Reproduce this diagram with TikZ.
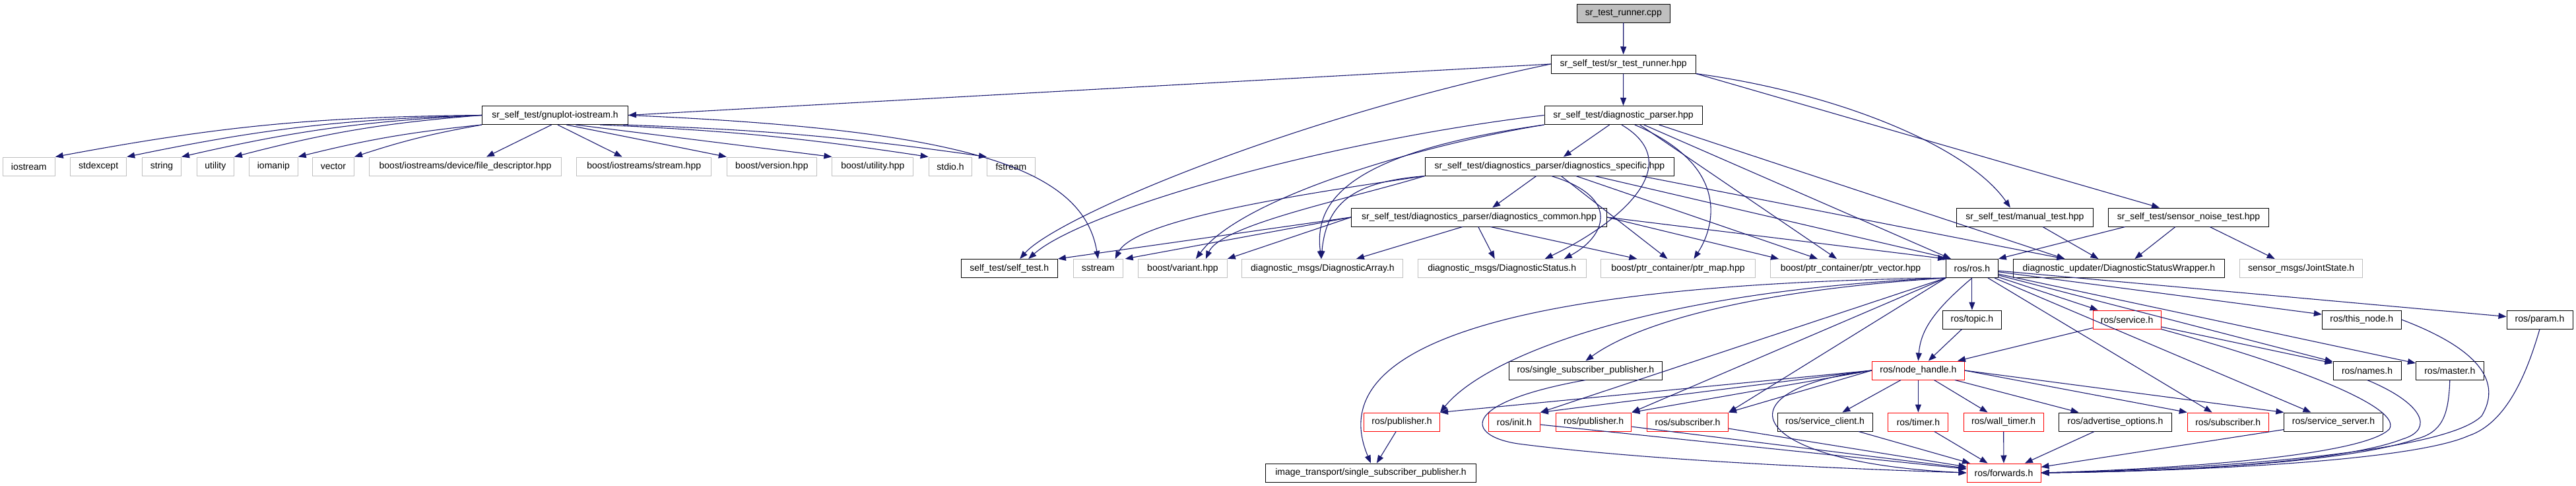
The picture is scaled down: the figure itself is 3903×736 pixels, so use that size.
\documentclass[tikz,border=0pt]{standalone}
\usepackage{fontspec}
\setmainfont{Liberation Sans}
\usetikzlibrary{arrows.meta,calc}
\definecolor{edgeblue}{HTML}{191970}
\definecolor{boxgray}{HTML}{BFBFBF}
\definecolor{boxred}{HTML}{FF0000}
\tikzset{
  box/.style={draw=black, fill=white, line width=1pt, minimum height=28pt, inner sep=0pt, font=\fontsize{14}{16}\selectfont},
  sysbox/.style={box, draw=boxgray},
  redbox/.style={box, draw=boxred},
  rootbox/.style={box, fill=boxgray},
  e/.style={draw=edgeblue, line width=1.1pt, -{Triangle[length=12pt,width=9pt]}}
}
\begin{document}
\begin{tikzpicture}[x=1pt,y=-1pt]
\useasboundingbox (0,0) rectangle (3903,736);
% row 1-3
\node[rootbox, minimum width=141] (cpp) at (2459.8,20) {sr\_test\_runner.cpp};
\node[box, minimum width=219] (runner) at (2459.6,97) {sr\_self\_test/sr\_test\_runner.hpp};
\node[box, minimum width=221] (gnuplot) at (841,174.5) {sr\_self\_test/gnuplot-iostream.h};
\node[box, minimum width=239] (dparser) at (2459.5,174.5) {sr\_self\_test/diagnostic\_parser.hpp};
% row 4
\node[sysbox, minimum width=79] (iostream) at (43.8,252) {iostream};
\node[sysbox, minimum width=85] (stdexcept) at (149.2,252) {stdexcept};
\node[sysbox, minimum width=59] (string) at (245,252) {string};
\node[sysbox, minimum width=56] (utility) at (326.4,252) {utility};
\node[sysbox, minimum width=73.6] (iomanip) at (414.4,252) {iomanip};
\node[sysbox, minimum width=63] (vector) at (505,252) {vector};
\node[sysbox, minimum width=291] (filedesc) at (705,252) {boost/iostreams/device/file\_descriptor.hpp};
\node[sysbox, minimum width=204] (stream) at (975.7,252) {boost/iostreams/stream.hpp};
\node[sysbox, minimum width=136] (version) at (1169.3,252) {boost/version.hpp};
\node[sysbox, minimum width=123] (butility) at (1322.4,252) {boost/utility.hpp};
\node[sysbox, minimum width=65.7] (stdio) at (1440,252) {stdio.h};
\node[sysbox, minimum width=72.8] (fstream) at (1531.9,252) {fstream};
\node[box, minimum width=377.6] (dspec) at (2347.9,252) {sr\_self\_test/diagnostics\_parser/diagnostics\_specific.hpp};
% row 5
\node[box, minimum width=387] (dcommon) at (2241,329) {sr\_self\_test/diagnostics\_parser/diagnostics\_common.hpp};
\node[box, minimum width=206.7] (manual) at (3067.9,329) {sr\_self\_test/manual\_test.hpp};
\node[box, minimum width=243.3] (sensor) at (3316,329) {sr\_self\_test/sensor\_noise\_test.hpp};
% row 6
\node[box, minimum width=146.4] (selftest) at (1529.2,406.5) {self\_test/self\_test.h};
\node[sysbox, minimum width=75.3] (sstream) at (1663.7,406.5) {sstream};
\node[sysbox, minimum width=134.7] (variant) at (1791.9,406.5) {boost/variant.hpp};
\node[sysbox, minimum width=244] (darray) at (2003.9,406.5) {diagnostic\_msgs/DiagnosticArray.h};
\node[sysbox, minimum width=255] (dstatus) at (2275.7,406.5) {diagnostic\_msgs/DiagnosticStatus.h};
\node[sysbox, minimum width=233.8] (ptrmap) at (2542.4,406.5) {boost/ptr\_container/ptr\_map.hpp};
\node[sysbox, minimum width=242.9] (ptrvec) at (2804,406.5) {boost/ptr\_container/ptr\_vector.hpp};
\node[box, minimum width=78.7] (ros) at (2987.9,406.5) {ros/ros.h};
\node[box, minimum width=320] (dsw) at (3210.4,406.5) {diagnostic\_updater/DiagnosticStatusWrapper.h};
\node[sysbox, minimum width=186] (joint) at (3486.7,406.5) {sensor\_msgs/JointState.h};
% row 7
\node[box, minimum width=89.7] (topic) at (2987.9,484) {ros/topic.h};
\node[redbox, minimum width=102.8] (service) at (3222.6,484) {ros/service.h};
\node[box, minimum width=119.7] (thisnode) at (3578.2,484) {ros/this\_node.h};
\node[box, minimum width=100] (param) at (3848,484) {ros/param.h};
% row 8
\node[box, minimum width=231.5] (ssp) at (2402.4,561) {ros/single\_subscriber\_publisher.h};
\node[redbox, minimum width=139.8] (nh) at (2906.4,561) {ros/node\_handle.h};
\node[box, minimum width=103] (names) at (3586.5,561) {ros/names.h};
\node[box, minimum width=102.7] (master) at (3711.8,561) {ros/master.h};
% row 9
\node[redbox, minimum width=115] (pub1) at (2124,639) {ros/publisher.h};
\node[redbox, minimum width=77.9] (init) at (2294.4,639) {ros/init.h};
\node[redbox, minimum width=114.5] (pub2) at (2414.6,639) {ros/publisher.h};
\node[redbox, minimum width=123] (sub1) at (2557,639) {ros/subscriber.h};
\node[box, minimum width=144] (sclient) at (2765,639) {ros/service\_client.h};
\node[redbox, minimum width=90.9] (timer) at (2906.4,639) {ros/timer.h};
\node[redbox, minimum width=121.2] (wtimer) at (3035.6,639) {ros/wall\_timer.h};
\node[box, minimum width=171.2] (adv) at (3205,639) {ros/advertise\_options.h};
\node[redbox, minimum width=122.8] (sub2) at (3375.7,639) {ros/subscriber.h};
\node[box, minimum width=149.3] (sserver) at (3535.5,639) {ros/service\_server.h};
% row 10
\node[box, minimum width=318.8] (itssp) at (2077,716) {image\_transport/single\_subscriber\_publisher.h};
\node[redbox, minimum width=112] (fwd) at (3036,716) {ros/forwards.h};

% edges from the top
\draw[e] (cpp) -- (runner);
\draw[e] (runner.west) -- (gnuplot.east);
\draw[e] (runner) -- (dparser);
\draw[e] (runner.west) .. controls (1950,180) and (1600,330) .. ($(selftest.north)+(16,0)$);
\draw[e] (runner.south east) .. controls (2780,140) and (2980,220) .. ($(manual.north)+(-22,0)$);
\draw[e] (runner.south east) -- ($(sensor.north)+(-44,0)$);
% gnuplot
\foreach \t in {iostream,stdexcept,string,utility}
  \draw[e] (gnuplot.west) to[bend right=5] (\t.north east);
\foreach \t in {iomanip,vector}
  \draw[e] (gnuplot.south west) to[bend right=4] (\t.north east);
\draw[e] (gnuplot.250) -- ($(filedesc.north)+(32,0)$);
\draw[e] (gnuplot.-75) -- ($(stream.north)+(-33,0)$);
\draw[e] (gnuplot.-40) -- (version.north west);
\draw[e] (gnuplot.-25) -- (butility.north west);
\draw[e] (gnuplot.-12) to[bend left=3] (stdio.north west);
\draw[e] (gnuplot.-8) to[bend left=3] (fstream.north west);
\draw[e] (gnuplot.east) .. controls (1450,196) and (1640,250) .. (sstream.north);
% diagnostic_parser
\draw[e] (dparser) -- (dspec);
\draw[e] (dparser.west) .. controls (2000,215) and (1640,320) .. ($(selftest.north)+(29,0)$);
\draw[e] (dparser.south west) .. controls (2150,220) and (1880,300) .. ($(variant.north)+(20,0)$);
\draw[e] (dparser.south west) .. controls (2050,230) and (1990,300) .. ($(darray.north)+(-2,0)$);
\draw[e] (dparser.-100) .. controls (2560,250) and (2450,340) .. ($(dstatus.north)+(65,0)$);
\draw[e] (dparser.-40) .. controls (2620,250) and (2600,340) .. ($(ptrmap.north)+(24,0)$);
\draw[e] (dparser.-30) -- ($(ptrvec.north)+(-21,0)$);
\draw[e] (dparser.-25) -- ($(ros.north)+(-32,0)$);
\draw[e] (dparser.-15) -- ($(dsw.north)+(-82,0)$);
% diagnostics_specific
\draw[e] (dspec) -- (dcommon);
\draw[e] (dspec.south west) .. controls (2000,290) and (1720,330) .. ($(sstream.north)+(26,0)$);
\draw[e] (dspec.south west) .. controls (2050,300) and (1850,340) .. ($(variant.north)+(35,0)$);
\draw[e] (dspec.south west) .. controls (2060,275) and (2010,300) .. ($(darray.north)+(-2,0)$);
\draw[e] (dspec.-80) .. controls (2460,300) and (2430,360) .. ($(dstatus.north)+(94,0)$);
\draw[e] (dspec.-40) -- ($(ptrmap.north)+(-16,0)$);
\draw[e] (dspec.-20) -- ($(ptrvec.north)+(-50,0)$);
\draw[e] (dspec.-12) -- ($(ros.north)+(-32,0)$);
\draw[e] (dspec.-6) -- ($(dsw.north)+(-82,0)$);
% diagnostics_common
\draw[e] (dcommon.west) -- (selftest.north east);
\draw[e] (dcommon.west) -- ($(sstream.north)+(41,0)$);
\draw[e] (dcommon.west) -- (variant.north east);
\draw[e] (dcommon.-150) -- ($(darray.north)+(51,0)$);
\draw[e] (dcommon.-95) -- ($(dstatus.north)+(-11,0)$);
\draw[e] (dcommon.-40) -- ($(ptrmap.north)+(-62,0)$);
\draw[e] (dcommon.east) -- ($(ptrvec.north)+(-109,0)$);
\draw[e] (dcommon.east) -- (ros.north west);
% manual / sensor
\draw[e] ($(manual.south)+(27,0)$) -- ($(dsw.north)+(-31,0)$);
\draw[e] ($(sensor.south west)+(26,0)$) -- (ros.north east);
\draw[e] ($(sensor.south)+(-20,0)$) -- ($(dsw.north)+(24,0)$);
\draw[e] ($(sensor.south)+(32,0)$) -- ($(joint.north)+(-40,0)$);
% ros fan
\draw[e] (ros) -- (topic);
\draw[e] (ros.south) .. controls (2930,470) and (2910,500) .. (nh.north);
\foreach \t in {service,thisnode,param,names,master,sserver,sub2}
  \draw[e] (ros) -- (\t);
\foreach \t in {sub1,pub2,init}
  \draw[e] (ros.south west) -- (\t.north east);
\draw[e] (ros.south west) .. controls (2650,440) and (2480,490) .. (ssp.north);
\draw[e] (ros.south west) .. controls (2500,440) and (2250,540) .. (pub1.north east);
\draw[e] (ros.south west) .. controls (2300,430) and (2000,520) .. (itssp.north);
\draw[e] (topic) -- (nh);
\draw[e] (service) -- (nh);
\draw[e] (service) -- (names);
\foreach \t in {pub1,init,pub2,sub1}
  \draw[e] (nh.west) -- (\t.north east);
\foreach \t in {sclient,timer,wtimer,adv}
  \draw[e] (nh) -- (\t);
\foreach \t in {sub2,sserver}
  \draw[e] (nh.east) -- (\t.north west);
\draw[e] (nh.west) .. controls (2600,590) and (2640,700) .. (fwd.west);
\draw[e] (pub1) -- (itssp);
\draw[e] (ssp.south) .. controls (2210,610) and (2220,660) .. (2300,672) .. controls (2500,698) and (2800,710) .. (fwd.west);
\foreach \t in {init,pub2,sub1,sclient,timer,wtimer,adv,sserver}
  \draw[e] (\t) -- (fwd);
\draw[e] (service.south east) .. controls (3500,560) and (3640,620) .. (3620,650) .. controls (3580,690) and (3300,710) .. (fwd.east);
\draw[e] (thisnode.east) .. controls (3760,530) and (3790,580) .. (3760,630) .. controls (3700,690) and (3300,712) .. (fwd.east);
\draw[e] (param.south) .. controls (3830,560) and (3800,640) .. (3740,660) .. controls (3650,700) and (3300,714) .. (fwd.east);
\draw[e] (names.south) .. controls (3670,610) and (3690,650) .. (3640,665) .. controls (3550,700) and (3300,714) .. (fwd.east);
\draw[e] (master.south) .. controls (3710,630) and (3700,655) .. (3660,665) .. controls (3560,700) and (3300,714) .. (fwd.east);
\end{tikzpicture}
\end{document}
